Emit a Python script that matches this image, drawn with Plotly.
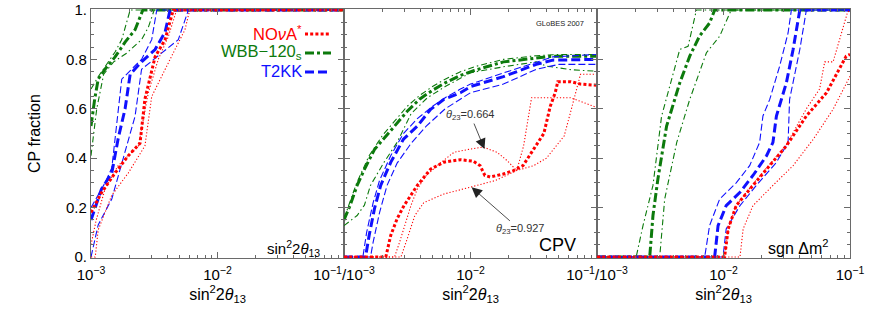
import plotly.graph_objects as go
from plotly.subplots import make_subplots
import math

# ---------------- data ----------------
# Panel 1: sin^2 2theta13 discovery
G1_lo_x = [1.0e-3, 1.11e-3, 1.26e-3, 1.51e-3, 1.91e-3, 2.51e-3, 2.84e-3, 3.16e-3, 1.0e-1]
G1_lo_y = [0.41, 0.60, 0.74, 0.79, 0.825, 0.88, 0.93, 1.0, 1.0]
G1_c_x = [1.0e-3, 1.07e-3, 1.14e-3, 1.29e-3, 1.55e-3, 1.86e-3, 2.23e-3, 2.51e-3, 2.57e-3, 1.0e-1]
G1_c_y = [0.53, 0.64, 0.72, 0.76, 0.81, 0.87, 0.92, 0.99, 1.0, 1.0]
G1_hi_x = [1.0e-3, 1.14e-3, 1.29e-3, 1.55e-3, 1.75e-3, 2.04e-3, 1.0e-1]
G1_hi_y = [0.68, 0.73, 0.77, 0.83, 0.88, 1.0, 1.0]

B1_lo_x = [1.0e-3, 1.14e-3, 1.46e-3, 2.0e-3, 2.23e-3, 2.51e-3, 3.21e-3, 4.90e-3, 5.89e-3, 1.0e-1]
B1_lo_y = [0.0, 0.13, 0.235, 0.48, 0.57, 0.76, 0.805, 0.88, 1.0, 1.0]
B1_c_x = [1.0e-3, 1.21e-3, 1.46e-3, 1.64e-3, 1.86e-3, 2.04e-3, 2.51e-3, 3.21e-3, 3.85e-3, 4.22e-3, 1.0e-1]
B1_c_y = [0.15, 0.275, 0.34, 0.48, 0.60, 0.74, 0.79, 0.84, 0.91, 1.0, 1.0]
B1_hi_x = [1.0e-3, 1.29e-3, 1.46e-3, 1.75e-3, 2.09e-3, 2.51e-3, 3.02e-3, 3.31e-3, 1.0e-1]
B1_hi_y = [0.20, 0.30, 0.36, 0.72, 0.76, 0.80, 0.88, 1.0, 1.0]

R1_lo_x = [1.0e-3, 1.08e-3, 1.14e-3, 1.46e-3, 1.97e-3, 2.67e-3, 3.02e-3, 3.63e-3, 4.61e-3, 5.53e-3, 6.03e-3, 1.0e-1]
R1_lo_y = [0.0, 0.0, 0.11, 0.25, 0.34, 0.45, 0.65, 0.73, 0.84, 0.92, 1.0, 1.0]
R1_c_x = [1.0e-3, 1.21e-3, 1.55e-3, 1.97e-3, 2.44e-3, 2.67e-3, 3.21e-3, 3.85e-3, 4.47e-3, 1.0e-1]
R1_c_y = [0.18, 0.26, 0.34, 0.41, 0.46, 0.64, 0.81, 0.88, 1.0, 1.0]
R1_hi_x = [1.0e-3, 1.10e-3, 1.29e-3, 1.64e-3, 2.37e-3, 2.84e-3, 3.40e-3, 4.07e-3, 4.75e-3, 1.0e-1]
R1_hi_y = [0.05, 0.15, 0.275, 0.37, 0.45, 0.665, 0.80, 0.89, 1.0, 1.0]

# Panel 2: CP violation
G2_lo_x = [1.0e-3, 1.27e-3, 1.45e-3, 1.62e-3, 2.07e-3, 2.63e-3, 3.39e-3, 4.57e-3, 6.31e-3, 1.0e-2, 1.82e-2, 3.31e-2, 3.98e-2, 6.31e-2, 1.0e-1]
G2_lo_y = [0.127, 0.168, 0.21, 0.29, 0.383, 0.464, 0.58, 0.645, 0.69, 0.746, 0.77, 0.79, 0.773, 0.758, 0.752]
G2_c_x = [1.0e-3, 1.12e-3, 1.27e-3, 1.45e-3, 1.74e-3, 2.0e-3, 2.51e-3, 3.16e-3, 3.98e-3, 5.01e-3, 6.31e-3, 8.32e-3, 1.07e-2, 1.82e-2, 3.31e-2, 4.47e-2, 1.0e-1]
G2_c_y = [0.15, 0.21, 0.29, 0.355, 0.435, 0.47, 0.53, 0.59, 0.64, 0.675, 0.705, 0.735, 0.755, 0.79, 0.806, 0.813, 0.813]
G2_hi_x = [1.0e-3, 1.26e-3, 1.58e-3, 2.0e-3, 2.51e-3, 3.16e-3, 3.98e-3, 5.01e-3, 6.31e-3, 8.32e-3, 1.07e-2, 1.82e-2, 3.31e-2, 5.01e-2, 1.0e-1]
G2_hi_y = [0.155, 0.30, 0.41, 0.49, 0.55, 0.61, 0.655, 0.69, 0.72, 0.75, 0.77, 0.80, 0.815, 0.82, 0.82]

B2_lo_x = [1.0e-3, 1.62e-3, 1.70e-3, 1.91e-3, 2.19e-3, 2.63e-3, 3.39e-3, 4.47e-3, 6.31e-3, 1.0e-2, 1.82e-2, 3.31e-2, 5.01e-2, 1.0e-1]
B2_lo_y = [0.0, 0.0, 0.06, 0.18, 0.29, 0.38, 0.46, 0.53, 0.60, 0.665, 0.70, 0.76, 0.78, 0.78]
B2_c_x = [1.0e-3, 1.48e-3, 1.58e-3, 1.74e-3, 1.95e-3, 2.34e-3, 2.95e-3, 3.80e-3, 4.84e-3, 6.17e-3, 8.32e-3, 1.0e-2, 1.82e-2, 3.31e-2, 4.47e-2, 1.0e-1]
B2_c_y = [0.0, 0.0, 0.087, 0.195, 0.29, 0.383, 0.477, 0.53, 0.598, 0.638, 0.665, 0.69, 0.73, 0.78, 0.797, 0.80]
B2_hi_x = [1.0e-3, 1.41e-3, 1.51e-3, 1.70e-3, 1.91e-3, 2.34e-3, 2.95e-3, 3.80e-3, 5.01e-3, 6.31e-3, 8.32e-3, 1.0e-2, 1.82e-2, 3.31e-2, 4.47e-2, 1.0e-1]
B2_hi_y = [0.0, 0.0, 0.10, 0.22, 0.31, 0.41, 0.50, 0.56, 0.61, 0.645, 0.68, 0.70, 0.745, 0.79, 0.81, 0.82]

R2_lo_x = [1.0e-3, 2.82e-3, 3.16e-3, 3.63e-3, 4.27e-3, 6.17e-3, 1.0e-2, 1.58e-2, 2.32e-2, 3.16e-2, 3.98e-2, 5.50e-2, 6.17e-2, 6.76e-2, 7.41e-2, 1.0e-1]
R2_lo_y = [0.0, 0.0, 0.074, 0.168, 0.22, 0.255, 0.283, 0.31, 0.35, 0.37, 0.40, 0.49, 0.585, 0.666, 0.74, 0.74]
R2_c_x = [1.0e-3, 2.14e-3, 2.34e-3, 2.63e-3, 2.98e-3, 3.80e-3, 4.84e-3, 6.17e-3, 8.32e-3, 1.05e-2, 1.19e-2, 1.30e-2, 1.43e-2, 1.82e-2, 2.19e-2, 2.60e-2, 3.16e-2, 3.80e-2, 4.27e-2, 4.68e-2, 4.90e-2, 6.17e-2, 7.41e-2, 1.0e-1]
R2_c_y = [0.0, 0.0, 0.087, 0.155, 0.208, 0.29, 0.356, 0.384, 0.394, 0.388, 0.37, 0.33, 0.324, 0.336, 0.35, 0.37, 0.437, 0.50, 0.61, 0.666, 0.71, 0.71, 0.70, 0.695]
R2_hi_x = [1.0e-3, 2.51e-3, 2.75e-3, 3.09e-3, 3.39e-3, 3.80e-3, 4.47e-3, 5.75e-3, 7.41e-3, 1.0e-2, 1.26e-2, 1.62e-2, 1.95e-2, 2.32e-2, 2.63e-2, 3.04e-2, 6.17e-2, 1.0e-1]
R2_hi_y = [0.0, 0.0, 0.06, 0.14, 0.21, 0.275, 0.33, 0.38, 0.424, 0.437, 0.445, 0.424, 0.39, 0.35, 0.45, 0.645, 0.645, 0.605]

# Panel 3: sign of Delta m^2
G3_lo_x = [1.0e-3, 3.13e-3, 3.43e-3, 4.27e-3, 5.41e-3, 7.33e-3, 9.33e-3, 1.15e-2, 1.0e-1]
G3_lo_y = [0.0, 0.0, 0.235, 0.464, 0.638, 0.827, 0.894, 1.0, 1.0]
G3_c_x = [1.0e-3, 2.61e-3, 2.77e-3, 3.03e-3, 3.55e-3, 4.51e-3, 5.41e-3, 6.46e-3, 7.76e-3, 8.51e-3, 1.0e-1]
G3_c_y = [0.0, 0.0, 0.168, 0.316, 0.53, 0.705, 0.813, 0.894, 0.947, 1.0, 1.0]
G3_hi_x = [1.0e-3, 2.04e-3, 2.31e-3, 2.77e-3, 3.24e-3, 4.51e-3, 5.25e-3, 6.11e-3, 1.0e-1]
G3_hi_y = [0.0, 0.0, 0.127, 0.29, 0.57, 0.84, 0.853, 1.0, 1.0]

B3_lo_x = [1.0e-3, 9.91e-3, 1.05e-2, 1.35e-2, 1.82e-2, 2.62e-2, 3.24e-2, 3.33e-2, 4.01e-2, 4.52e-2, 1.0e-1]
B3_lo_y = [0.0, 0.0, 0.114, 0.208, 0.29, 0.383, 0.464, 0.638, 0.84, 1.0, 1.0]
B3_c_x = [1.0e-3, 8.51e-3, 9.06e-3, 1.05e-2, 1.35e-2, 1.71e-2, 2.19e-2, 2.46e-2, 2.62e-2, 3.14e-2, 3.55e-2, 4.01e-2, 1.0e-1]
B3_c_y = [0.0, 0.0, 0.127, 0.208, 0.262, 0.33, 0.41, 0.464, 0.571, 0.705, 0.84, 1.0, 1.0]
B3_hi_x = [1.0e-3, 7.10e-3, 7.76e-3, 9.33e-3, 1.26e-2, 1.61e-2, 1.93e-2, 2.05e-2, 2.32e-2, 2.78e-2, 3.24e-2, 3.44e-2, 1.0e-1]
B3_hi_y = [0.0, 0.0, 0.127, 0.235, 0.30, 0.37, 0.464, 0.571, 0.638, 0.773, 0.907, 1.0, 1.0]

R3_lo_x = [1.0e-3, 1.35e-2, 1.43e-2, 1.71e-2, 2.46e-2, 3.55e-2, 5.13e-2, 7.35e-2, 1.0e-1]
R3_lo_y = [0.0, 0.0, 0.114, 0.208, 0.29, 0.37, 0.477, 0.598, 0.732]
R3_c_x = [1.0e-3, 1.02e-2, 1.09e-2, 1.26e-2, 1.71e-2, 2.32e-2, 3.14e-2, 4.52e-2, 6.52e-2, 9.33e-2, 1.0e-1]
R3_c_y = [0.0, 0.0, 0.114, 0.208, 0.29, 0.37, 0.45, 0.571, 0.665, 0.813, 0.82]
R3_hi_x = [1.0e-3, 1.02e-2, 1.09e-2, 1.26e-2, 1.71e-2, 2.32e-2, 3.14e-2, 4.52e-2, 5.75e-2, 6.31e-2, 7.35e-2, 9.55e-2, 1.0e-1]
R3_hi_y = [0.0, 0.0, 0.114, 0.21, 0.295, 0.375, 0.455, 0.60, 0.68, 0.79, 0.79, 0.99, 1.0]

experiments = ["NO<i>ν</i>A<sup>*</sup>", "WBB−120<sub>s</sub>", "T2KK"]
panel_labels = ["sin<sup>2</sup>2<i>θ</i><sub>13</sub>", "CPV", "sgn Δm<sup>2</sup>"]
y_tickvals = [0, 0.2, 0.4, 0.6, 0.8, 1.0]
y_ticktext = ["0.", "0.2", "0.4", "0.6", "0.8", "1."]
x_tickvals = [1e-3, 1e-2, 1e-1]
x_ticktext = [
    ["10<sup>−3</sup>", "10<sup>−2</sup>", "10<sup>−1</sup>/10<sup>−3</sup>"],
    ["", "10<sup>−2</sup>", "10<sup>−1</sup>/10<sup>−3</sup>"],
    ["", "10<sup>−2</sup>", "10<sup>−1</sup>"],
]

RED, GREEN, BLUE = "#ff0000", "#0c7a0c", "#1010ff"
styles = {
    "G": dict(color=GREEN, thin="6px,3px,1.5px,3px", thick="9px,3px,3px,3px"),
    "B": dict(color=BLUE, thin="7px,3px", thick="9px,4px"),
    "R": dict(color=RED, thin="1.2px,2px", thick="3px,2.2px"),
}

panels = [
    {"G": [(G1_lo_x, G1_lo_y), (G1_hi_x, G1_hi_y), (G1_c_x, G1_c_y)],
     "B": [(B1_lo_x, B1_lo_y), (B1_hi_x, B1_hi_y), (B1_c_x, B1_c_y)],
     "R": [(R1_lo_x, R1_lo_y), (R1_hi_x, R1_hi_y), (R1_c_x, R1_c_y)]},
    {"G": [(G2_lo_x, G2_lo_y), (G2_hi_x, G2_hi_y), (G2_c_x, G2_c_y)],
     "B": [(B2_lo_x, B2_lo_y), (B2_hi_x, B2_hi_y), (B2_c_x, B2_c_y)],
     "R": [(R2_lo_x, R2_lo_y), (R2_hi_x, R2_hi_y), (R2_c_x, R2_c_y)]},
    {"G": [(G3_lo_x, G3_lo_y), (G3_hi_x, G3_hi_y), (G3_c_x, G3_c_y)],
     "B": [(B3_lo_x, B3_lo_y), (B3_hi_x, B3_hi_y), (B3_c_x, B3_c_y)],
     "R": [(R3_lo_x, R3_lo_y), (R3_hi_x, R3_hi_y), (R3_c_x, R3_c_y)]},
]

fig = make_subplots(rows=1, cols=3, shared_yaxes=True, horizontal_spacing=0)

for p, panel in enumerate(panels):
    for key in ["G", "B", "R"]:
        st = styles[key]
        for i, (xs, ys) in enumerate(panel[key]):
            thick = (i == 2)
            fig.add_trace(go.Scatter(
                x=xs, y=ys, mode="lines", showlegend=False, hoverinfo="skip",
                line=dict(color=st["color"], width=3 if thick else 1.1,
                          dash=st["thick"] if thick else st["thin"]),
            ), row=1, col=p + 1)

FONT = "Liberation Sans, Arial, sans-serif"
minor_x = [k * 10.0 ** e for e in (-3, -2) for k in range(2, 10)]
AX = "#6a6a6a"

for c in range(3):
    fig.update_xaxes(
        type="log", range=[-3, -1], tickmode="array", tickvals=x_tickvals,
        ticktext=x_ticktext[c], ticks="inside", ticklen=6, tickcolor=AX,
        showline=True, linecolor=AX, linewidth=1.2, mirror="ticks",
        showgrid=False, zeroline=False, automargin=False, ticklabelstandoff=3,
        tickfont=dict(family=FONT, size=15, color="black"),
        minor=dict(tickvals=minor_x, ticks="inside", ticklen=3, tickcolor=AX, showgrid=False),
        title=dict(text="sin<sup>2</sup>2<i>θ</i><sub>13</sub>", font=dict(family=FONT, size=16, color="black"), standoff=5),
        row=1, col=c + 1)
    fig.update_yaxes(
        range=[-0.004, 1.004], tickmode="array", tickvals=y_tickvals, ticktext=y_ticktext,
        ticks="inside", ticklen=6, tickcolor=AX, showline=True, linecolor=AX, linewidth=1.2,
        mirror="ticks", showgrid=False, zeroline=False, automargin=False, ticklabeloverflow="allow",
        tickfont=dict(family=FONT, size=15, color="black"),
        minor=dict(dtick=0.05, ticks="inside", ticklen=3, tickcolor=AX, showgrid=False),
        showticklabels=(c == 0),
        row=1, col=c + 1)

fig.update_yaxes(title=dict(text="CP fraction", font=dict(family=FONT, size=16, color="black"), standoff=21), row=1, col=1)

W, H = 893, 313
L, R, T, B = 91, 43, 9, 55
pw, ph = W - L - R, H - T - B

def px(x):
    return (x - L) / pw

def py(y):
    return (H - B - y) / ph

annotations = []
# legend (text then line sample)
leg_rows = [(33, "R", experiments[0], RED), (52, "G", experiments[1], GREEN), (71, "B", experiments[2], BLUE)]
shapes = []
for yy, key, txt, col in leg_rows:
    annotations.append(dict(x=px(304), y=py(yy), xref="paper", yref="paper", text=txt, showarrow=False,
                            xanchor="right", yanchor="middle", font=dict(family=FONT, size=16.5, color=col)))
    shapes.append(dict(type="line", xref="paper", yref="paper", x0=px(305), x1=px(331), y0=py(yy + 1), y1=py(yy + 1),
                       line=dict(color=col, width=3, dash=styles[key]["thick"])))

# panel labels
annotations.append(dict(x=px(322), y=py(248), xref="paper", yref="paper", text=panel_labels[0], showarrow=False,
                        xanchor="right", yanchor="middle", font=dict(family=FONT, size=15, color="black")))
annotations.append(dict(x=px(578), y=py(245), xref="paper", yref="paper", text=panel_labels[1], showarrow=False,
                        xanchor="right", yanchor="middle", font=dict(family=FONT, size=18, color="black")))
annotations.append(dict(x=px(831), y=py(247), xref="paper", yref="paper", text=panel_labels[2], showarrow=False,
                        xanchor="right", yanchor="middle", font=dict(family=FONT, size=16, color="black")))
annotations.append(dict(x=px(586), y=py(24), xref="paper", yref="paper", text="GLoBES 2007", showarrow=False,
                        xanchor="right", yanchor="middle", font=dict(family=FONT, size=7.5, color="#222")))
# theta23 arrows
annotations.append(dict(x=math.log10(1.29e-2), y=0.437, xref="x2", yref="y2", text="<i>θ</i><sub>23</sub>=0.664",
                        showarrow=True, arrowhead=2, arrowsize=2.6, arrowwidth=0.8, arrowcolor="#222",
                        ax=-14, ay=-34, font=dict(family=FONT, size=11, color="#333")))
annotations.append(dict(x=math.log10(1.02e-2), y=0.282, xref="x2", yref="y2", text="<i>θ</i><sub>23</sub>=0.927",
                        showarrow=True, arrowhead=2, arrowsize=2.6, arrowwidth=0.8, arrowcolor="#222",
                        ax=48, ay=42, font=dict(family=FONT, size=11, color="#333")))

fig.update_layout(
    width=W, height=H, margin=dict(l=L, r=R, t=T, b=B, autoexpand=False),
    paper_bgcolor="white", plot_bgcolor="white",
    annotations=list(fig.layout.annotations) + annotations, shapes=shapes,
    font=dict(family=FONT),
)

# remove the default page margin so the figure fills the window exactly
fig.write_html("out.html", config={"displayModeBar": False},
               post_script="document.body.style.margin='0px';")
